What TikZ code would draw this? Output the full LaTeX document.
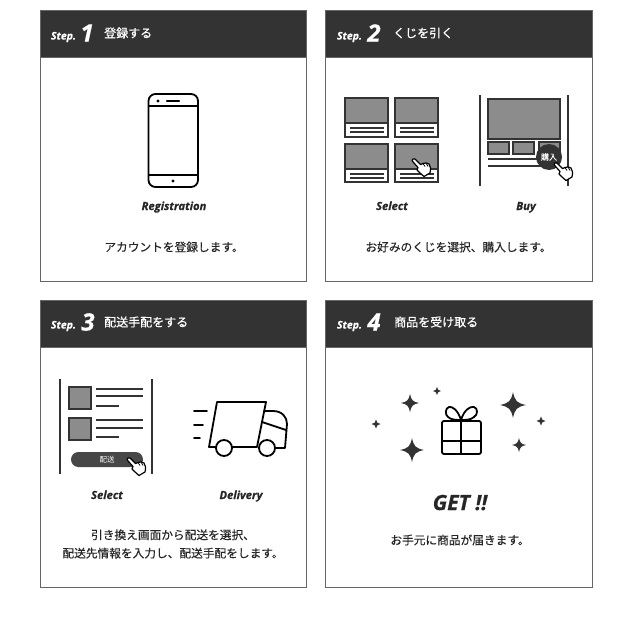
\documentclass[tikz,border=0pt]{standalone}
\usepackage{fontspec}
\setmainfont{Noto Sans CJK JP}
\newfontfamily\latinfont[FakeBold=0.6]{Open Sans Bold Italic}
\newfontfamily\titlefont[FakeBold=0.5]{Noto Sans CJK JP}
\newfontfamily\bodyfont[FakeBold=0.2]{Noto Sans CJK JP}
\definecolor{headgray}{HTML}{333333}
\definecolor{framegray}{HTML}{666666}
\definecolor{thumbgray}{HTML}{8C8C8C}
\tikzset{
  card/.style={draw=framegray,line width=1pt,fill=white},
  head/.style={fill=headgray,draw=framegray,line width=1pt},
  steplabel/.style={text=white,font=\latinfont\fontsize{10.5}{10.5}\selectfont,inner sep=0pt},
  stepnum/.style={text=white,font=\latinfont\fontsize{24}{24}\selectfont,inner sep=0pt},
  steptitle/.style={text=white,anchor=west,font=\titlefont\fontsize{12}{12}\selectfont,inner sep=0pt},
  caption/.style={text=black!85,font=\bodyfont\fontsize{11.7}{18.3}\selectfont,align=center,inner sep=0pt},
  enlabel/.style={text=black!85,anchor=base,font=\latinfont\fontsize{11.2}{11.2}\selectfont,inner sep=0pt},
  thumb/.style={draw=headgray,line width=1.1pt,fill=thumbgray},
  rule/.style={draw=headgray,line width=1.1pt},
  bar/.style={draw=headgray,line width=1.5pt},
  icon/.style={draw=black,line width=1.8pt,line join=round,line cap=round},
  sparkle/.pic={\fill[headgray] (0,-1) .. controls (0.15,-0.3) and (0.3,-0.15) .. (1,0) .. controls (0.3,0.15) and (0.15,0.3) .. (0,1) .. controls (-0.15,0.3) and (-0.3,0.15) .. (-1,0) .. controls (-0.3,-0.15) and (-0.15,-0.3) .. (0,-1) -- cycle;},
  handicon/.pic={\draw[draw=black,fill=white,line width=1.2pt,line join=round] (0,0) .. controls (-1.2,0.8) and (-1,1.5) .. (-0.3,2.5) -- (5,8.5) -- (4,11) .. controls (5,12) and (8,15) .. (11,17.5) -- (17,14) .. controls (18,10) and (17.5,7) .. (16,5) .. controls (14,3.8) and (12,3.5) .. (10,4.5) -- (7.5,5.5) -- (2,0) .. controls (1.3,-0.6) and (0.6,-0.5) .. (0,0) -- cycle;
    \draw[draw=black,line width=0.8pt] (10,4.5) -- (12,7.5) (13,4) -- (15,7.5);},
}
\begin{document}
\begin{tikzpicture}[x=1pt,y=-1pt]
  \useasboundingbox (0,0) rectangle (626,618);
  % cards
  \draw[card] (40,11) rectangle (306,281);
  \draw[card] (325,11) rectangle (592,281);
  \draw[card] (40,300) rectangle (306,587);
  \draw[card] (325,300) rectangle (592,587);
  \draw[head] (40,11) rectangle (306,58);
  \draw[head] (325,11) rectangle (592,58);
  \draw[head] (40,300) rectangle (306,347);
  \draw[head] (325,300) rectangle (592,347);
  % headers
  \node[steplabel] (s1) at (63.5,37) {Step.};
  \node[stepnum] (n1) at (87,33) {1};
  \node[steptitle] (t1) at (104,33) {登録する};
  \node[steplabel] (s2) at (349.5,37) {Step.};
  \node[stepnum] (n2) at (374,33) {2};
  \node[steptitle] (t2) at (393,33) {くじを引く};
  \node[steplabel] (s3) at (63.5,326) {Step.};
  \node[stepnum] (n3) at (88,322) {3};
  \node[steptitle] (t3) at (104,322) {配送手配をする};
  \node[steplabel] (s4) at (349.5,326) {Step.};
  \node[stepnum] (n4) at (374,322) {4};
  \node[steptitle] (t4) at (394,322) {商品を受け取る};
  % captions
  \node[caption] (c1) at (174,247) {アカウントを登録します。};
  \node[caption] (c2) at (458.5,247) {お好みのくじを選択、購入します。};
  \node[caption] (c3) at (173,544) {引き換え画面から配送を選択、\\配送先情報を入力し、配送手配をします。};
  \node[caption] (c4) at (460,540) {お手元に商品が届きます。};
  \node[enlabel] (registration) at (174,210) {Registration};
  \node[enlabel] (select2) at (392,210) {Select};
  \node[enlabel] (buy) at (526,210) {Buy};
  \node[enlabel] (select3) at (107,499) {Select};
  \node[enlabel] (delivery) at (241,499) {Delivery};
  \node[enlabel,font=\latinfont\fontsize{21}{21}\selectfont] (get) at (460,510) {GET !!};
  % phone
  \draw[icon,rounded corners=7pt] (148.5,94) rectangle (198,187);
  \draw[icon] (149,106) -- (198,106);
  \draw[icon] (149,175) -- (198,175);
  \draw[icon,line width=2.4pt] (167,101) -- (179,101);
  \fill (158,101) circle (1.7pt);
  \fill (173,181) circle (1.7pt);
  % select thumbs
  \draw[rule,fill=white] (345,98) rectangle (388,137);
  \draw[thumb] (345,98) rectangle (388,123);
  \draw[rule] (350,128) -- (384,128);
  \draw[rule] (350,132) -- (384,132);
  \draw[rule,fill=white] (395,98) rectangle (438,137);
  \draw[thumb] (395,98) rectangle (438,123);
  \draw[rule] (400,128) -- (434,128);
  \draw[rule] (400,132) -- (434,132);
  \draw[rule,fill=white] (345,144) rectangle (388,182);
  \draw[thumb] (345,144) rectangle (388,169);
  \draw[rule] (350,174) -- (384,174);
  \draw[rule] (350,178) -- (384,178);
  \draw[rule,fill=white] (395,144) rectangle (438,182);
  \draw[thumb] (395,144) rectangle (438,169);
  \draw[rule] (400,174) -- (434,174);
  \draw[rule] (400,178) -- (434,178);
  \pic at (413,159) {handicon};
  % buy
  \draw[bar] (480,95) -- (480,186);
  \draw[bar] (568,95) -- (568,186);
  \draw[thumb] (488,99) rectangle (560,139);
  \draw[thumb] (488,142) rectangle (509,154);
  \draw[thumb] (513,142) rectangle (534,154);
  \draw[thumb] (539,142) rectangle (560,154);
  \draw[rule] (488,159) -- (543,159);
  \draw[rule] (488,166) -- (543,166);
  \node[circle,fill=headgray,minimum size=26pt,inner sep=0pt,text=white,font=\titlefont\fontsize{8}{8}\selectfont] (buybtn) at (549,157) {購入};
  \pic at (555,163) {handicon};
  % order list
  \draw[bar] (60,379) -- (60,474);
  \draw[bar] (152,379) -- (152,474);
  \draw[thumb] (69,387) rectangle (91,409);
  \draw[rule] (96,389) -- (143,389);
  \draw[rule] (96,396) -- (143,396);
  \draw[rule] (96,406) -- (119,406);
  \draw[thumb] (69,418) rectangle (91,440);
  \draw[rule] (96,420) -- (143,420);
  \draw[rule] (96,428) -- (143,428);
  \draw[rule] (96,437) -- (119,437);
  \node[fill=headgray!90,rounded corners=7.5pt,minimum width=72pt,minimum height=15pt,inner sep=0pt,text=white,font=\fontsize{7.5}{7.5}\selectfont] (orderbtn) at (107,459.5) {配送};
  \pic at (128,458) {handicon};
  % truck
  \draw[icon] (194,411) -- (207,411);
  \draw[icon] (194,425) -- (203,425);
  \draw[icon] (194,438) -- (200,438);
  \draw[icon] (217,402) -- (266,402) -- (257,447) -- (209,447) -- cycle;
  \draw[icon] (264,411) -- (273,411) .. controls (282,411) and (287,417) .. (287,424) -- (285,448) -- (276,448);
  \draw[icon] (262,422) -- (286,430);
  \draw[icon,fill=white] (224,448) circle (8pt);
  \draw[icon,fill=white] (267,448) circle (8pt);
  % gift
  \draw[icon,rounded corners=2pt] (442,421) rectangle (481,454);
  \draw[icon] (461,421) -- (461,454);
  \draw[icon] (442,441) -- (481,441);
  \draw[icon] (461,420) .. controls (458,410) and (452,406) .. (449,407) .. controls (445,408) and (445,415) .. (448,417) .. controls (451,420) and (457,420) .. (461,420) .. controls (465,420) and (471,420) .. (474,417) .. controls (478,415) and (478,408) .. (474,407) .. controls (470,406) and (464,410) .. (461,420);
  \pic[scale=9] at (410,403) {sparkle};
  \pic[scale=4] at (437,391) {sparkle};
  \pic[scale=4.5] at (376,424) {sparkle};
  \pic[scale=12] at (412,450) {sparkle};
  \pic[scale=13] at (513,405) {sparkle};
  \pic[scale=4.5] at (541,421) {sparkle};
  \pic[scale=7] at (519,445) {sparkle};
\end{tikzpicture}
\end{document}
